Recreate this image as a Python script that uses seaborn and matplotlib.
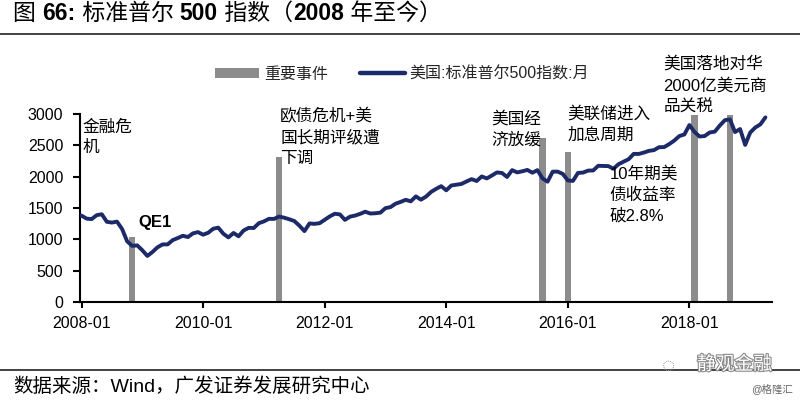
import numpy as np
import pandas as pd
import matplotlib
matplotlib.use("Agg")
import matplotlib.pyplot as plt
import matplotlib.patheffects as pe
from matplotlib.patches import Patch
from matplotlib.lines import Line2D
import seaborn as sns

# ---------------- data ----------------
start_month = "2008-01"
end_month = "2019-04"
spx_monthly = [
    # 2008
    1378.6, 1330.6, 1322.7, 1385.6, 1400.4, 1280.0, 1267.4, 1282.8, 1166.4, 968.8, 896.2, 903.3,
    # 2009
    825.9, 735.1, 797.9, 872.8, 919.1, 919.3, 987.5, 1020.6, 1057.1, 1036.2, 1095.6, 1115.1,
    # 2010
    1073.9, 1104.5, 1169.4, 1186.7, 1089.4, 1030.7, 1101.6, 1049.3, 1141.2, 1183.3, 1180.6, 1257.6,
    # 2011
    1286.1, 1327.2, 1325.8, 1363.6, 1345.2, 1320.6, 1292.3, 1218.9, 1131.4, 1253.3, 1247.0, 1257.6,
    # 2012
    1312.4, 1365.7, 1408.5, 1397.9, 1310.3, 1362.2, 1379.3, 1406.6, 1440.7, 1412.2, 1416.2, 1426.2,
    # 2013
    1498.1, 1514.7, 1569.2, 1597.6, 1630.7, 1606.3, 1685.7, 1633.0, 1681.6, 1756.5, 1805.8, 1848.4,
    # 2014
    1782.6, 1859.5, 1872.3, 1884.0, 1923.6, 1960.2, 1930.7, 2003.4, 1972.3, 2018.1, 2067.6, 2058.9,
    # 2015
    1995.0, 2104.5, 2067.9, 2085.5, 2107.4, 2063.1, 2103.8, 1972.2, 1920.0, 2079.4, 2080.4, 2043.9,
    # 2016
    1940.2, 1932.2, 2059.7, 2065.3, 2097.0, 2098.9, 2173.6, 2171.0, 2168.3, 2126.2, 2198.8, 2238.8,
    # 2017
    2278.9, 2363.6, 2362.7, 2384.2, 2411.8, 2423.4, 2470.3, 2471.7, 2519.4, 2575.3, 2647.6, 2673.6,
    # 2018
    2823.8, 2713.8, 2640.9, 2648.1, 2705.3, 2718.4, 2816.3, 2901.5, 2914.0, 2711.7, 2760.2, 2506.9,
    # 2019
    2704.1, 2784.5, 2834.4, 2945.8,
]
event_months = ["2008-11", "2011-04", "2015-08", "2016-01", "2018-02", "2018-09"]
event_heights = [1030, 2320, 2610, 2400, 2980, 2980]
event_labels = [
    "金融危\n机",
    "QE1",
    "欧债危机+美\n国长期评级遭\n下调",
    "美国经\n济放缓",
    "美联储进入\n加息周期",
    "10年期美\n债收益率\n破2.8%",
    "美国落地对华\n2000亿美元商\n品关税",
]
xtick_labels = ["2008-01", "2010-01", "2012-01", "2014-01", "2016-01", "2018-01"]
ytick_values = [0, 500, 1000, 1500, 2000, 2500, 3000]
legend_labels = ["重要事件", "美国:标准普尔500指数:月"]
title_parts = [("图 ", "normal"), ("66:", "bold"), (" 标准普尔 ", "normal"), ("500", "bold"),
               (" 指数（", "normal"), ("2008", "bold"), (" 年至今）", "normal")]
source_text = "数据来源：Wind，广发证券发展研究中心"

# ---------------- style ----------------
sns.set_theme(style="white")
plt.rcParams["font.family"] = ["Liberation Sans", "Noto Sans CJK SC", "DejaVu Sans"]
plt.rcParams["axes.unicode_minus"] = False

navy = "#1d2a68"
bar_gray = "#8c8c8c"

p0 = pd.Period(start_month, "M")
periods = pd.period_range(start_month, end_month, freq="M")
df = pd.DataFrame({"m": [(p - p0).n for p in periods], "v": spx_monthly})
ev_x = [(pd.Period(m, "M") - p0).n for m in event_months]
xtick_pos = [(pd.Period(l, "M") - p0).n for l in xtick_labels]

fig = plt.figure(figsize=(8, 4), dpi=100)
ax = fig.add_axes([0.1, 0.245, 0.865, 0.47])

ax.bar(ev_x, event_heights, width=1.25, color=bar_gray, zorder=2, linewidth=0)
sns.lineplot(data=df, x="m", y="v", ax=ax, color=navy, linewidth=2.8, zorder=3)

ax.set_xlim(-0.3, 136.3)
ax.set_ylim(0, 3000)
ax.set_xticks(xtick_pos)
ax.set_xticklabels(xtick_labels)
ax.set_yticks(ytick_values)
ax.set_yticklabels([str(v) for v in ytick_values])
ax.set_xlabel("")
ax.set_ylabel("")
for s in ["top", "right"]:
    ax.spines[s].set_visible(False)
for s in ["left", "bottom"]:
    ax.spines[s].set_color("black")
    ax.spines[s].set_linewidth(1.5)
ax.tick_params(axis="y", direction="out", length=5, width=1.5, color="black",
               pad=7, labelsize=11.5, labelcolor="black", left=True)
ax.tick_params(axis="x", direction="out", length=4, width=1.5, color="black",
               pad=6, labelsize=11.5, labelcolor="black", bottom=True)
ax.grid(False)

# ---------------- annotations ----------------
ann_kw = dict(fontsize=12, color="black", ha="left", va="top", linespacing=1.45,
              clip_on=False, zorder=5)
ax.text(0.25, 2920, event_labels[0], **ann_kw)
ax.text(11.2, 1265, event_labels[1], fontsize=12, fontweight="bold", ha="left",
        va="center", color="black", zorder=5)
ax.text(39.2, 3096, event_labels[2], **ann_kw)
ax.text(80.9, 3048, event_labels[3], **ann_kw)
ax.text(95.9, 3128, event_labels[4], **ann_kw)
ax.text(104.2, 2170, event_labels[5], **ann_kw)
ax.text(114.9, 3925, event_labels[6], **ann_kw)

# ---------------- legend ----------------
handles = [Patch(facecolor=bar_gray, edgecolor="none"),
           Line2D([0], [0], color=navy, linewidth=3.2)]
fig.legend(handles, legend_labels, loc="center", bbox_to_anchor=(402 / 800, 1 - 74 / 400),
           ncol=2, frameon=False, fontsize=11.5, handlelength=2.8, handletextpad=0.3,
           columnspacing=2.0, handleheight=0.65)

# ---------------- title, rules, source ----------------
last = None
for txt, w in title_parts:
    if last is None:
        last = fig.text(13 / 800, 1 - 25 / 400, txt, fontsize=16.5, fontweight=w,
                        ha="left", va="bottom", color="black")
    else:
        last = ax.annotate(txt, xy=(1, 0), xycoords=last, fontsize=16.5, fontweight=w,
                           ha="left", va="bottom", color="black", annotation_clip=False)

fig.add_artist(Line2D([0, 1], [1 - 33.5 / 400, 1 - 33.5 / 400], transform=fig.transFigure,
                      color="#333333", linewidth=1.3))
fig.add_artist(Line2D([0, 1], [1 - 369.5 / 400, 1 - 369.5 / 400], transform=fig.transFigure,
                      color="#333333", linewidth=1.3))
fig.text(13 / 800, 1 - 387 / 400, source_text, fontsize=14, ha="left", va="center",
         color="black")

# watermark
fig.text(697 / 800, 1 - 365 / 400, "静观金融", fontsize=13.5, ha="left", va="center",
         color="white", path_effects=[pe.withStroke(linewidth=1.6, foreground="#8a8a8a")])
fig.text(662 / 800, 1 - 366 / 400, "◌", fontsize=16, ha="left", va="center", color="#a0a0a0")
fig.text(793 / 800, 1 - 389 / 400, "@格隆汇", fontsize=7.5, ha="right", va="center",
         color="#666666")

fig.savefig("out.png", dpi=100)
